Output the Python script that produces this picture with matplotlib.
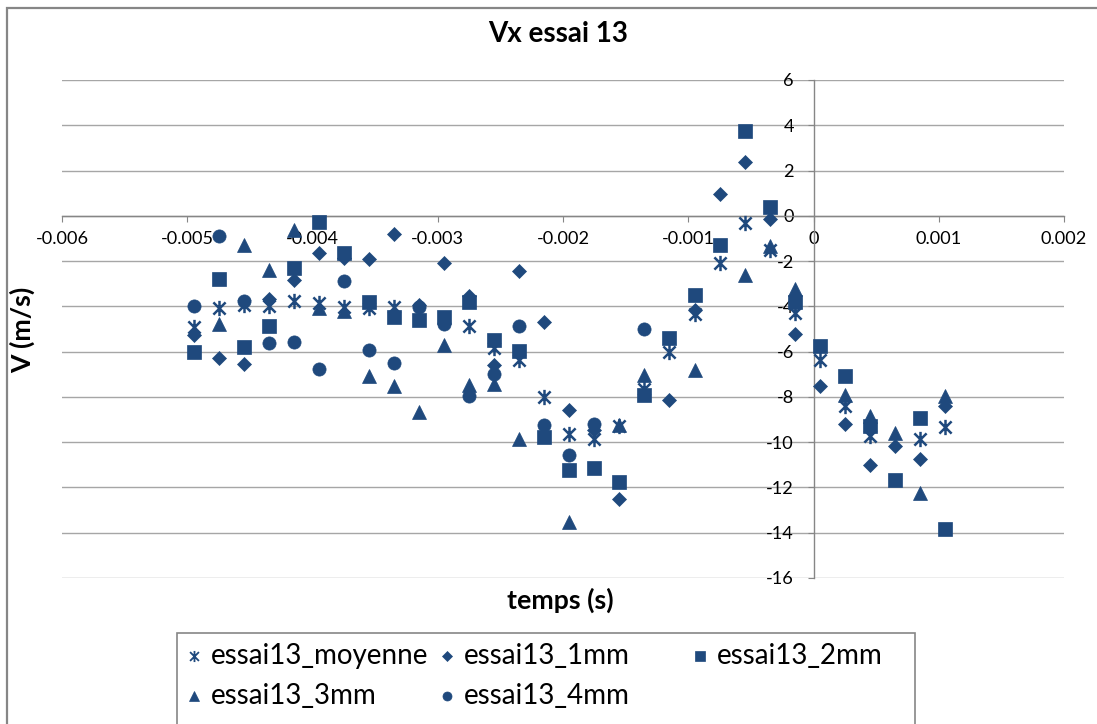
import numpy as np
import matplotlib
matplotlib.use('Agg')
import matplotlib.pyplot as plt
from matplotlib.lines import Line2D
from matplotlib.patches import Rectangle
from matplotlib.path import Path

plt.rcParams['font.family'] = ['Lato', 'DejaVu Sans']

nan = np.nan

# ---------------- data ----------------
temps = [-0.00495, -0.00475, -0.00455, -0.00435, -0.00415, -0.00395, -0.00375,
         -0.00355, -0.00335, -0.00315, -0.00295, -0.00275, -0.00255, -0.00235,
         -0.00215, -0.00195, -0.00175, -0.00155, -0.00135, -0.00115, -0.00095,
         -0.00075, -0.00055, -0.00035, -0.00015, 0.00005, 0.00025, 0.00045,
         0.00065, 0.00085, 0.00105]

essai13_moyenne = [-4.93, -4.07, -3.95, -3.97, -3.75, -3.85, -4.03, -4.07, -4.03, nan,
                   nan, -4.85, -5.84, -6.35, -8.0, -9.62, -9.87, -9.3, -7.65, -6.01,
                   -4.32, -2.09, -0.32, -1.5, -4.29, -6.35, -8.38, -9.74, nan, -9.88,
                   -9.35]
essai13_1mm = [-5.25, -6.29, -6.53, -3.68, -2.82, -1.65, -1.87, -1.90, -0.81, -3.93,
               -2.09, -3.56, -6.57, -2.44, -4.68, -8.56, -9.45, -12.49, nan, -8.15,
               -4.15, 0.96, 2.38, -0.13, -5.21, -7.53, -9.19, -10.99, -10.18, -10.74,
               -8.38]
essai13_2mm = [-6.03, -2.78, -5.81, -4.88, -2.31, -0.28, -1.65, -3.82, -4.47, -4.59,
               -4.47, -3.82, -5.47, -5.99, -9.76, -11.24, -11.12, -11.76, -7.9, -5.40,
               -3.51, -1.31, 3.75, 0.38, -3.79, -5.76, -7.09, -9.29, -11.65, -8.93,
               -13.82]
essai13_3mm = [nan, -4.76, -1.28, -2.38, -0.62, -4.07, -4.22, -7.09, -7.53, -8.68,
               -5.72, -7.46, -7.43, -9.85, nan, -13.52, nan, -9.26, -7.04, nan,
               -6.79, nan, -2.63, -1.35, -3.22, nan, -7.9, -8.85, -9.59, -12.24,
               -7.94]
essai13_4mm = [-4.0, -0.88, -3.75, -5.63, -5.57, -6.76, -2.9, -5.91, -6.5, -4.03,
               -4.76, -7.94, -7.01, -4.88, -9.26, -10.57, -9.18, nan, -5.0, nan,
               nan, nan, nan, nan, nan, nan, nan, nan, nan, nan, nan]

series_names = ['essai13_moyenne', 'essai13_1mm', 'essai13_2mm', 'essai13_3mm', 'essai13_4mm']
series_values = [essai13_moyenne, essai13_1mm, essai13_2mm, essai13_3mm, essai13_4mm]

xticks = [-0.006, -0.005, -0.004, -0.003, -0.002, -0.001, 0, 0.001, 0.002]
xtick_labels = ['-0.006', '-0.005', '-0.004', '-0.003', '-0.002', '-0.001', '0', '0.001', '0.002']
yticks = [-16, -14, -12, -10, -8, -6, -4, -2, 0, 2, 4, 6]
ytick_labels = ['-16', '-14', '-12', '-10', '-8', '-6', '-4', '-2', '0', '2', '4', '6']

title = 'Vx essai 13'
xlabel = 'temps (s)'
ylabel = 'V (m/s)'

# ---------------- styling ----------------
W, H = 1097, 724
color = '#1F497D'
axis_gray = '#868686'
grid_gray = '#A6A6A6'

# Excel-style star marker: an X with a vertical bar
star = Path([(0, -1), (0, 1), (-0.8, -0.8), (0.8, 0.8), (-0.8, 0.8), (0.8, -0.8)],
            [Path.MOVETO, Path.LINETO, Path.MOVETO, Path.LINETO, Path.MOVETO, Path.LINETO])

styles = [
    dict(marker=star, ms=11, mew=1.8),
    dict(marker='D', ms=7.0, mew=0.5),
    dict(marker='s', ms=9.5, mew=0.5),
    dict(marker='^', ms=10.0, mew=0.5),
    dict(marker='o', ms=9.5, mew=0.5),
]
legend_styles = [
    dict(marker=star, ms=8, mew=1.3),
    dict(marker='D', ms=4.8, mew=0.5),
    dict(marker='s', ms=6.5, mew=0.5),
    dict(marker='^', ms=7.0, mew=0.5),
    dict(marker='o', ms=6.5, mew=0.5),
]


def fx(px):
    return px / W


def fy(py):
    return 1 - py / H


fig = plt.figure(figsize=(W / 100, H / 100), dpi=100)
fig.patch.set_facecolor('white')

# outer chart-area border (cropped on right/bottom)
fig.add_artist(Rectangle((fx(7), fy(740)), fx(1120) - fx(7), fy(8) - fy(740),
                         transform=fig.transFigure, fill=False,
                         edgecolor=axis_gray, lw=1.6, zorder=0))

ax = fig.add_axes([fx(62), fy(578), fx(1064) - fx(62), fy(80) - fy(578)])
ax.set_facecolor('none')

for name, vals, st in zip(series_names, series_values, styles):
    ax.plot(temps, vals, linestyle='none', color=color, mfc=color, mec=color,
            label=name, clip_on=False, zorder=3, **st)

ax.set_xlim(-0.006, 0.002)
ax.set_ylim(-16, 6)
ax.set_xticks(xticks)
ax.set_xticklabels(xtick_labels)
ax.set_yticks(yticks)
ax.set_yticklabels(ytick_labels)

for s in ['top', 'right']:
    ax.spines[s].set_visible(False)
ax.spines['left'].set_position(('data', 0))
ax.spines['bottom'].set_position(('data', 0))
for s in ['left', 'bottom']:
    ax.spines[s].set_color(axis_gray)
    ax.spines[s].set_linewidth(1.0)
    ax.spines[s].set_zorder(2)

ax.yaxis.grid(True, color=grid_gray, lw=1.0)
ax.xaxis.grid(False)
ax.set_axisbelow(True)
ax.tick_params(axis='both', direction='out', length=4, color=axis_gray,
               labelsize=12.5, labelcolor='black')
ax.tick_params(axis='y', pad=10)
ax.tick_params(axis='x', pad=7)

t_title = ax.set_title(title, fontweight='bold', fontsize=18, x=(558 - 62) / 1002,
                       y=(578 - 42) / 498, va='center')
t_xl = ax.set_xlabel(xlabel, fontweight='bold', fontsize=17, va='center')
ax.xaxis.set_label_coords((560 - 62) / 1002, (578 - 600) / 498)
t_yl = ax.set_ylabel(ylabel, fontweight='bold', fontsize=17, va='center')
ax.yaxis.set_label_coords((22 - 62) / 1002, (578 - 330) / 498)

# legend box (Excel style, cropped at bottom)
fig.add_artist(Rectangle((fx(177), fy(740)), fx(915) - fx(177), fy(633) - fy(740),
                         transform=fig.transFigure, facecolor='white',
                         edgecolor=axis_gray, lw=1.2, zorder=1))
leg_pos = [(194, 656), (447, 656), (700, 656), (194, 696), (447, 696)]
leg_texts = []
for (px, py), name, st in zip(leg_pos, series_names, legend_styles):
    fig.add_artist(Line2D([fx(px)], [fy(py)], transform=fig.transFigure,
                          linestyle='none', color=color, mfc=color, mec=color,
                          zorder=2, **st))
    leg_texts.append(fig.text(fx(px + 17), fy(py), name, ha='left', va='center',
                              fontsize=19, color='black', zorder=2))

# fit text sizes to reference widths
fig.canvas.draw()
r = fig.canvas.get_renderer()


def fit(t, target, vertical=False):
    bb = t.get_window_extent(r)
    w = bb.height if vertical else bb.width
    return t.get_fontsize() * target / w


t_title.set_fontsize(fit(t_title, 140))
fs_lab = fit(t_xl, 106)
t_xl.set_fontsize(fs_lab)
t_yl.set_fontsize(fs_lab)
fs_leg = fit(leg_texts[0], 218)
for t in leg_texts:
    t.set_fontsize(fs_leg)
lab = [t for t in ax.get_xticklabels() if t.get_text() == '-0.005'][0]
fs_tick = fit(lab, 53)
ax.tick_params(axis='both', labelsize=fs_tick)

fig.savefig('out.png', dpi=100, facecolor='white')
